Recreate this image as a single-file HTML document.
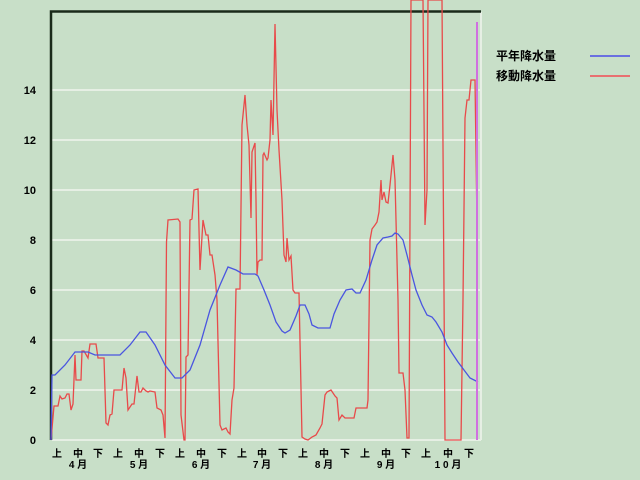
<!DOCTYPE html>
<html><head><meta charset="utf-8"><style>
html,body{margin:0;padding:0;background:#c8dfc8;}
svg{display:block}
text{font-family:"Liberation Sans","Noto Sans CJK JP",sans-serif;font-weight:bold;fill:#000}
</style></head><body>
<svg width="640" height="480" viewBox="0 0 640 480">
<rect width="640" height="480" fill="#c8dfc8"/>
<g stroke="#e6efe4" stroke-width="2">
<line x1="52" y1="390" x2="481" y2="390"/><line x1="52" y1="340" x2="481" y2="340"/>
<line x1="52" y1="290" x2="481" y2="290"/><line x1="52" y1="240" x2="481" y2="240"/>
<line x1="52" y1="190" x2="481" y2="190"/><line x1="52" y1="140" x2="481" y2="140"/>
<line x1="52" y1="90" x2="481" y2="90"/>
<line x1="52" y1="440" x2="481" y2="440"/>
<line x1="481" y1="12" x2="481" y2="440"/>
</g>
<path d="M51,440V11.5H481" fill="none" stroke="#1a2a1a" stroke-width="2.5"/>
<g font-size="11" text-anchor="end">
<text x="36" y="444">0</text><text x="36" y="394">2</text><text x="36" y="344">4</text>
<text x="36" y="294">6</text><text x="36" y="244">8</text><text x="36" y="194">10</text>
<text x="36" y="144">12</text><text x="36" y="94">14</text>
</g>
<g font-size="10" text-anchor="middle">
<text x="57" y="457">上</text><text x="78" y="457">中</text><text x="98" y="457">下</text>
<text x="118" y="457">上</text><text x="139" y="457">中</text><text x="160" y="457">下</text>
<text x="180" y="457">上</text><text x="201" y="457">中</text><text x="222" y="457">下</text>
<text x="242" y="457">上</text><text x="262" y="457">中</text><text x="283" y="457">下</text>
<text x="303" y="457">上</text><text x="324" y="457">中</text><text x="345" y="457">下</text>
<text x="365" y="457">上</text><text x="386" y="457">中</text><text x="406" y="457">下</text>
<text x="426" y="457">上</text><text x="448" y="457">中</text><text x="469" y="457">下</text>
<text x="78" y="468">4 月</text><text x="139" y="468">5 月</text><text x="201" y="468">6 月</text>
<text x="262" y="468">7 月</text><text x="324" y="468">8 月</text><text x="386" y="468">9 月</text>
<text x="448" y="468">1 0 月</text>
</g>
<polyline fill="none" stroke="#e84a4a" stroke-width="1.3" points="51,440 54,406 58,406 60,396 62,399 65,398 67,394 69,394 71,410 73,404 75,355 76,380 81,380 82,351 84,351 88,358 90,344 96,344 98,358 104,358 106,423 108,425 110,415 112,414 114,390 122,390 124,368 126,378 128,410 132,404 134,404 137,376 139,392 141,392 143,388 146,391 148,392 150,391 155,392 157,408 161,410 163,415 165,438 166.5,242 168,220 178,219 180,222 181,415 184,440 185,440 186,357 188,355 190,220 192,219 194,190 198,189 200,270 203,220 206,235 208,235 210,255 212,255 215,275 217,300 220,425 222,430 226,428 228,432 230,434 232,400 234,388 236,289 240,289 242,125 245,95 247,125 249,145 251,218 252,152 255,143 256,200 257,275 258,262 260,260 262,260 263,155 264,153 267,160 268,158 270,140 271,100 273,135 275,24 277,110 279,150 282,200 284,255 286,262 287,238 289,260 291,256 293,290 295,293 299,293 302,437 305,439 308,440 312,437 316,435 320,428 322,424 325,395 327,392 331,390 335,396 337,398 339,420 342,415 345,418 354,418 356,408 367,408 368,400 370,240 372,229 375,225 377,222 379,212 381,180 382,200 384,192 386,202 388,203 390,185 393,155 395,180 398,300 399,373 403,373 405,390 407,438 409,438 411,0 423,0 425,225 427,190 428,0 442,0 445,440 461,440 463,300 465,118 467,100 469,100 471,80 475,80 477,225"/>
<polyline fill="none" stroke="#4a55e0" stroke-width="1.3" points="51,440 52,375 55,375 65,365 75,352 88,352 95,355 120,355 130,345 140,332 146,332 155,345 165,365 175,378 182,378 190,370 200,345 210,310 220,285 228,267 236,270 243,274 255,274 258,276 264,290 270,305 276,322 282,331 285,333 290,330 296,316 300,305 305,305 309,314 312,325 318,328 330,328 334,314 340,300 346,290 352,289 356,293 360,293 366,280 372,260 377,245 383,238 388,237 392,236 395,233 398,234 403,240 407,255 412,275 416,290 422,305 427,315 432,317 436,322 442,332 447,345 452,353 458,362 464,370 470,378 478,382"/>
<line x1="477" y1="22" x2="477" y2="440" stroke="#d070e0" stroke-width="2"/>
<g font-size="12">
<text x="496" y="60">平年降水量</text>
<text x="496" y="80">移動降水量</text>
</g>
<line x1="590" y1="56" x2="630" y2="56" stroke="#6a70e0" stroke-width="2"/>
<line x1="590" y1="76" x2="630" y2="76" stroke="#e87070" stroke-width="2"/>
</svg>
</body></html>
